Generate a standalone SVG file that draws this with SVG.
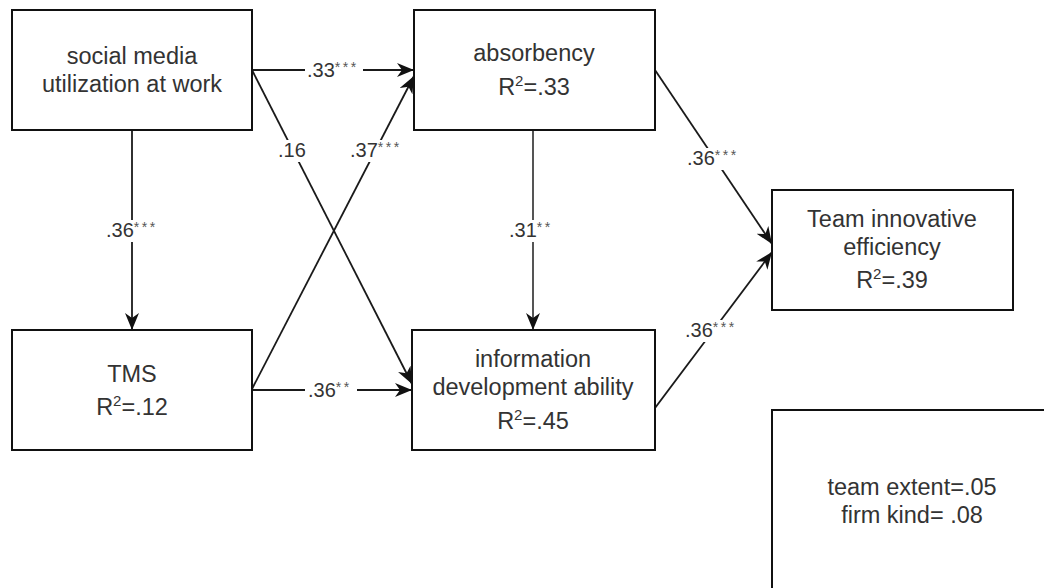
<svg xmlns="http://www.w3.org/2000/svg" width="1044" height="588" viewBox="0 0 1044 588">
<style>
.box{fill:#fff;stroke:#111;stroke-width:2}
.t{font-family:"Liberation Sans",Arial,sans-serif;font-size:23.5px;fill:#333;text-anchor:middle}
.sup{font-size:15px}
.edge{stroke:#1a1a1a;stroke-width:1.8;fill:none;marker-end:url(#arr)}
.lbl{font-family:"Liberation Sans",Arial,sans-serif;font-size:20px;fill:#333}
.st{font-size:14px;letter-spacing:2.5px;fill:#555}
.bg{fill:#fff}
</style>
<defs>
<marker id="arr" markerUnits="userSpaceOnUse" markerWidth="18" markerHeight="14" refX="17" refY="7" orient="auto">
<path d="M0,0 L17,7 L0,14 L5,7 Z" fill="#111"/>
</marker>
</defs>
<rect width="1044" height="588" fill="#fff"/>
<g id="connectors">
<line class="edge" x1="252" y1="70" x2="414" y2="70"/>
<line class="edge" x1="252" y1="70" x2="412" y2="384"/>
<line class="edge" x1="252" y1="389" x2="414" y2="76"/>
<line class="edge" x1="252" y1="390" x2="412" y2="390"/>
<line class="edge" x1="132" y1="130" x2="132" y2="330"/>
<line class="edge" x1="533" y1="130" x2="533" y2="330" style="stroke:#555;stroke-width:2"/>
<line class="edge" x1="655" y1="70" x2="772" y2="244"/>
<line class="edge" x1="655" y1="408" x2="772" y2="252"/>
<g id="labels">
<rect class="bg" x="305" y="60" width="58" height="22"/>
<text class="lbl" x="307" y="77">.33<tspan class="st" dy="-5">***</tspan></text>
<rect class="bg" x="276" y="140" width="33" height="22"/>
<text class="lbl" x="278" y="157">.16</text>
<rect class="bg" x="347" y="140" width="58" height="22"/>
<text class="lbl" x="350" y="157">.37<tspan class="st" dy="-5">***</tspan></text>
<rect class="bg" x="103" y="220" width="58" height="22"/>
<text class="lbl" x="106" y="237">.36<tspan class="st" dy="-5">***</tspan></text>
<rect class="bg" x="305" y="380" width="52" height="22"/>
<text class="lbl" x="308" y="397">.36<tspan class="st" dy="-5">**</tspan></text>
<rect class="bg" x="506" y="220" width="52" height="22"/>
<text class="lbl" x="509" y="237">.31<tspan class="st" dy="-5">**</tspan></text>
<rect class="bg" x="684" y="148" width="58" height="22"/>
<text class="lbl" x="687" y="165">.36<tspan class="st" dy="-5">***</tspan></text>
<rect class="bg" x="682" y="320" width="58" height="22"/>
<text class="lbl" x="685" y="337">.36<tspan class="st" dy="-5">***</tspan></text>
</g>
</g>
<g id="node-social">
<rect class="box" x="12" y="10" width="240" height="120"/>
<text class="t" x="132" y="64">social media</text>
<text class="t" x="132" y="92">utilization at work</text>
</g>
<g id="node-absorbency">
<rect class="box" x="414" y="10" width="241" height="120"/>
<text class="t" x="534" y="61">absorbency</text>
<text class="t" x="534" y="95">R<tspan class="sup" dy="-9">2</tspan><tspan dy="9">=.33</tspan></text>
</g>
<g id="node-tms">
<rect class="box" x="12" y="330" width="240" height="120"/>
<text class="t" x="132" y="382">TMS</text>
<text class="t" x="132" y="415">R<tspan class="sup" dy="-9">2</tspan><tspan dy="9">=.12</tspan></text>
</g>
<g id="node-info">
<rect class="box" x="412" y="330" width="243" height="120"/>
<text class="t" x="533" y="367">information</text>
<text class="t" x="533" y="395">development ability</text>
<text class="t" x="533" y="429">R<tspan class="sup" dy="-9">2</tspan><tspan dy="9">=.45</tspan></text>
</g>
<g id="node-team">
<rect class="box" x="772" y="190" width="241" height="120"/>
<text class="t" x="892" y="227">Team innovative</text>
<text class="t" x="892" y="255">efficiency</text>
<text class="t" x="892" y="288">R<tspan class="sup" dy="-9">2</tspan><tspan dy="9">=.39</tspan></text>
</g>
<g id="node-controls">
<rect class="box" x="772" y="410" width="280" height="200"/>
<text class="t" x="912" y="495">team extent=.05</text>
<text class="t" x="912" y="523">firm kind= .08</text>
</g>
</svg>
